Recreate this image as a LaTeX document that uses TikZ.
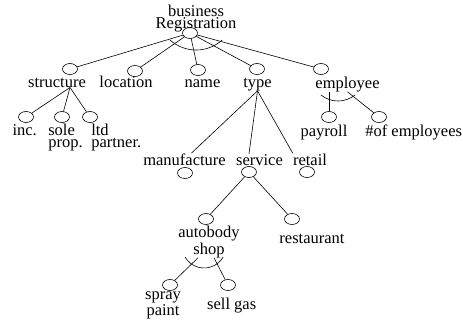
\documentclass[tikz,border=0pt]{standalone}
\usepackage{fontspec}
\setmainfont{Liberation Serif}
\usetikzlibrary{shapes.geometric}
\tikzset{
  leaf/.style={draw,ellipse,minimum width=15pt,minimum height=11pt,inner sep=0pt},
  word/.style={inner sep=0pt,font=\fontsize{16.5}{12}\selectfont},
}
\begin{document}
\begin{tikzpicture}[x=1pt,y=1pt,line width=0.6pt]
    \useasboundingbox (0,0) rectangle (463,-324);
    % top
    \node (biz) at (190,-33) [leaf] {};
    \node (bizl) at (196,-28) [word,anchor=base,align=center] {business\\Registration};
    % second row
    \node (struct) at (70,-69) [leaf] {};
    \node (loc) at (135,-71) [leaf] {};
    \node (name) at (198,-70) [leaf] {};
    \node (type) at (257,-69) [leaf] {};
    \node (emp) at (321,-69) [leaf] {};
    \node (structl) at (57,-87) [word,anchor=base] {structure};
    \node (locl) at (126,-87) [word,anchor=base] {location};
    \node (namel) at (202.5,-87) [word,anchor=base] {name};
    \node (typel) at (257.5,-87) [word,anchor=base] {type};
    \node (empl) at (347.5,-88) [word,anchor=base] {employee};
    % under structure
    \node (inc) at (26,-117) [leaf] {};
    \node (sole) at (62,-117) [leaf] {};
    \node (ltd) at (90,-117) [leaf] {};
    \node (incl) at (24.7,-135) [word,anchor=base] {inc.};
    \node (solel) at (48,-147) [word,anchor=base west,align=left] {sole\\prop.};
    \node (ltdl) at (91,-147) [word,anchor=base west,align=left] {ltd\\partner.};
    % under employee
    \node (pay) at (329,-117) [leaf] {};
    \node (num) at (379,-117) [leaf] {};
    \node (payl) at (324,-136) [word,anchor=base] {payroll};
    \node (numl) at (365,-136) [word,anchor=base west] {\#of employees};
    % under type
    \node (manul) at (184.5,-165) [word,anchor=base] {manufacture};
    \node (servl) at (259.5,-165) [word,anchor=base] {service};
    \node (retl) at (310,-165) [word,anchor=base] {retail};
    \node (manu) at (185,-173) [leaf] {};
    \node (serv) at (249,-172) [leaf] {};
    \node (ret) at (307,-172) [leaf] {};
    % under service
    \node (auto) at (206,-219) [leaf] {};
    \node (rest) at (292,-219) [leaf] {};
    \node (autol) at (209,-254) [word,anchor=base,align=center] {autobody\\shop};
    \node (restl) at (312,-243) [word,anchor=base] {restaurant};
    % under autobody
    \node (spray) at (170,-285) [leaf] {};
    \node (sell) at (228,-285) [leaf] {};
    \node (sprayl) at (163,-315) [word,anchor=base,align=center] {spray\\paint};
    \node (selll) at (231.7,-309) [word,anchor=base] {sell gas};
    % links
    \draw (biz) -- (struct);
    \draw (biz) -- (loc);
    \draw (biz) -- (name);
    \draw (biz) -- (type);
    \draw (biz) -- (emp);
    \draw (biz) ++(-20,-7) arc[start angle=228,end angle=312,radius=39];
    \draw (structl.south -| struct) -- (inc);
    \draw (structl.south -| struct) -- (sole);
    \draw (structl.south -| struct) -- (ltd);
    \draw (empl.south -| pay) -- (pay);
    \draw (empl.south) -- (num);
    \draw (emp) ++(0,-26) arc[start angle=231,end angle=309,radius=27];
    \draw (typel.south) -- ([xshift=7pt]manul.north);
    \draw (typel.south) -- (servl.north -| serv);
    \draw (typel.south) -- (retl.north west);
    \draw (serv) -- (auto);
    \draw (serv) -- (rest);
    \draw ([xshift=-11pt]autol.south) -- (spray);
    \draw ([xshift=5pt]autol.south) -- (sell);
    \draw (auto) ++(-21,-38) arc[start angle=210,end angle=330,radius=22];
\end{tikzpicture}
\end{document}
